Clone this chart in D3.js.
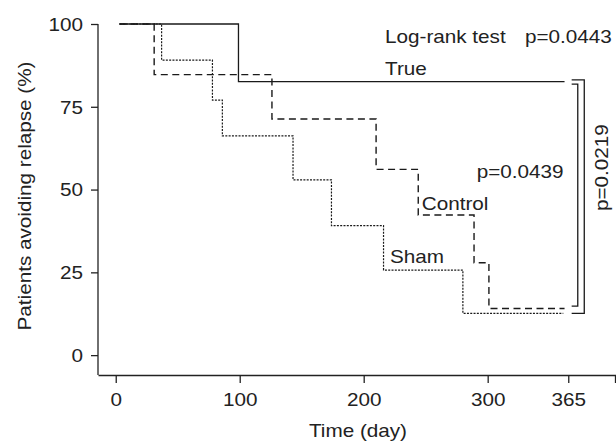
<!DOCTYPE html>
<html>
<head>
    <title>Relapse curves</title>
    <script src="https://d3js.org/d3.v7.min.js"></script>
    <style>
        body { margin: 0; background: #fff; }
        svg { display: block; }
        text { font-family: 'Liberation Sans', Arial, sans-serif; font-size: 18px; fill: #222; }
    </style>
</head>
<body>
    <svg width="616" height="443"></svg>
    <script>
        // Kaplan-Meier style step data (day, % avoiding relapse)
        var trueDays = [3, 99];
        var trueValues = [100, 82.6];
        var controlDays = [3, 31, 126, 210, 244, 289, 301];
        var controlValues = [100, 84.7, 71.3, 56.1, 42.3, 27.9, 14.1];
        var shamDays = [3, 37, 78, 86, 143, 174, 216, 280];
        var shamValues = [100, 89.1, 77.0, 66.2, 52.9, 39.1, 25.7, 12.6];
        var endDays = [362, 362, 361];

        var xTicks = [0, 100, 200, 300, 365];
        var yTicks = [0, 25, 50, 75, 100];

        var stretch = 1.15; // the original font is a bit wider than Arial

        var svg = d3.select("svg");

        var x = d3.scaleLinear().domain([-14.3, 403.5]).range([98, 616]);
        var y = d3.scaleLinear().domain([-6, 100]).range([375, 24]);

        // axes
        var xAxis = svg.append("g")
            .attr("transform", "translate(0," + y(-6) + ")")
            .call(d3.axisBottom(x).tickValues(xTicks.concat([x.domain()[1] - 0.8])).tickSize(8).tickSizeOuter(0).tickFormat(""));
        xAxis.selectAll(".tick text").remove();
        xAxis.selectAll(".tick").filter(d => xTicks.indexOf(d) >= 0)
            .append("text")
            .attr("text-anchor", "middle")
            .attr("transform", "translate(0,30.5) scale(" + stretch + ",1)")
            .text(d => d);

        var yAxis = svg.append("g")
            .attr("transform", "translate(" + x(-14.3) + ",0)")
            .call(d3.axisLeft(y).tickValues(yTicks).tickSize(7).tickSizeOuter(0).tickFormat(""));
        yAxis.selectAll(".tick text").remove();
        yAxis.selectAll(".tick")
            .append("text")
            .attr("text-anchor", "end")
            .attr("dy", "0.35em")
            .attr("transform", "translate(-15,0) scale(" + stretch + ",1)")
            .text(d => d);
        // y axis starts at the 100 tick
        yAxis.select(".domain").attr("d", "M0," + y(100) + "V" + y(-6));

        svg.selectAll(".domain, .tick line").attr("stroke", "#222").attr("stroke-width", 1.3);

        // axis titles
        svg.append("text")
            .attr("text-anchor", "middle")
            .attr("transform", "translate(358,437) scale(" + stretch + ",1)")
            .text("Time (day)");
        svg.append("text")
            .attr("text-anchor", "middle")
            .attr("transform", "translate(31,196) rotate(-90) scale(" + stretch + ",1)")
            .text("Patients avoiding relapse (%)");

        // curves
        function steps(days, values, end) {
            var pts = days.map((d, i) => [d, values[i]]);
            pts.push([end, values[values.length - 1]]);
            return pts;
        }
        var line = d3.line().x(d => x(d[0])).y(d => y(d[1])).curve(d3.curveStepAfter);

        var curves = [
            { pts: steps(trueDays, trueValues, endDays[0]), dash: null, w: 1.3 },
            { pts: steps(controlDays, controlValues, endDays[1]), dash: "7,4.5", w: 1.4 },
            { pts: steps(shamDays, shamValues, endDays[2]), dash: "2,1.3", w: 1.2 }
        ];
        svg.append("g").selectAll("path")
            .data(curves)
            .enter().append("path")
            .attr("d", d => line(d.pts))
            .attr("fill", "none")
            .attr("stroke", "#1a1a1a")
            .attr("stroke-width", d => d.w)
            .attr("stroke-dasharray", d => d.dash);

        // comparison brackets at the right
        var lastTrue = trueValues[trueValues.length - 1];
        var lastControl = controlValues[controlValues.length - 1];
        var lastSham = shamValues[shamValues.length - 1];
        var brackets = [
            { top: y(lastTrue) - 1.7, bottom: y(lastSham), reach: 16 },
            { top: y(lastTrue) + 2.6, bottom: y(lastControl) - 2.3, reach: 9.5 }
        ];
        var bx = x(365) + 3.4;
        svg.append("g").selectAll("path")
            .data(brackets)
            .enter().append("path")
            .attr("d", d => "M" + bx + "," + d.top + "H" + (x(365) + d.reach) + "V" + d.bottom + "H" + bx)
            .attr("fill", "none")
            .attr("stroke", "#1a1a1a")
            .attr("stroke-width", 1.3);

        // annotations
        var labels = [
            { t: "Log-rank test", d: 217.2, v: 94.35 },
            { t: "p=0.0443", d: 330.1, v: 94.35 },
            { t: "True", d: 217.2, v: 84.6 },
            { t: "p=0.0439", d: 291.1, v: 53.4 },
            { t: "Control", d: 246.8, v: 43.8 },
            { t: "Sham", d: 221.2, v: 27.9 }
        ];
        svg.append("g").selectAll("text")
            .data(labels)
            .enter().append("text")
            .attr("transform", d => "translate(" + x(d.d) + "," + y(d.v) + ") scale(" + stretch + ",1)")
            .text(d => d.t);

        svg.append("text")
            .attr("text-anchor", "middle")
            .attr("transform", "translate(" + x(397.4) + "," + y(56.6) + ") rotate(-90) scale(" + stretch + ",1)")
            .text("p=0.0219");
    </script>
</body>
</html>
